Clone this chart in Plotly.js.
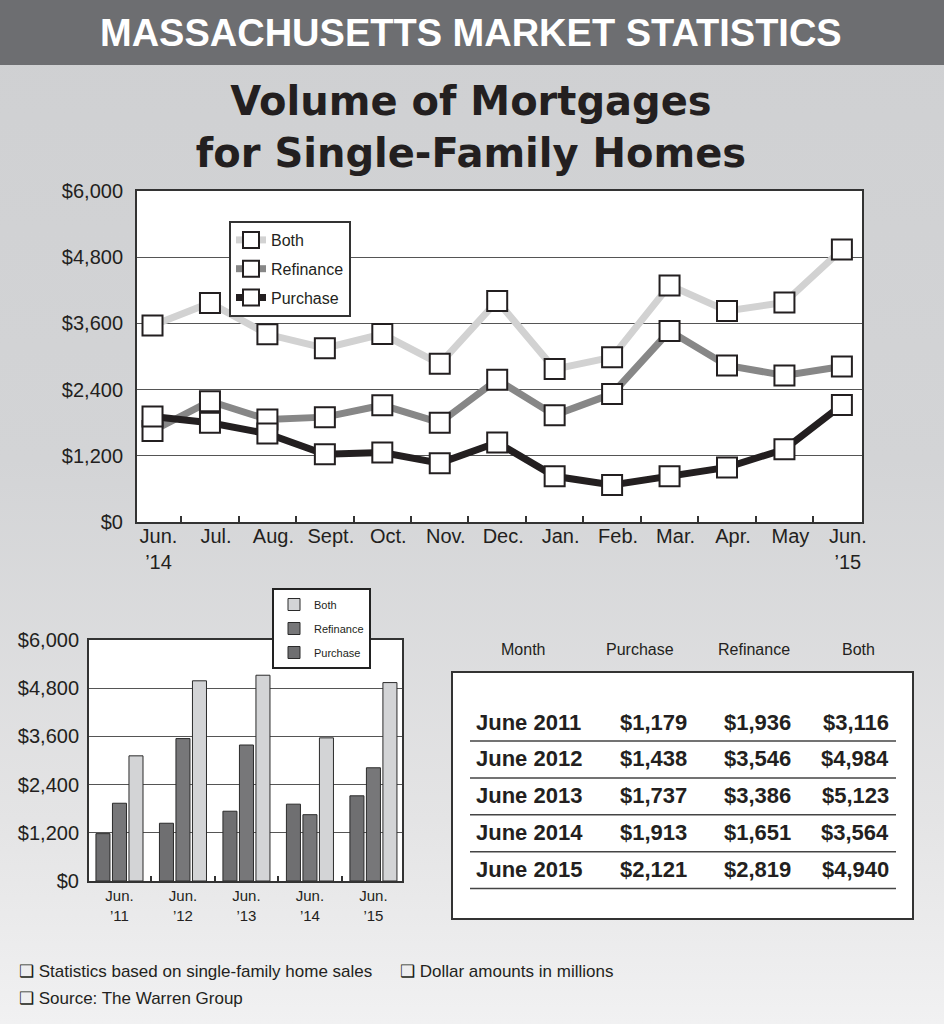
<!DOCTYPE html>
<html><head><meta charset="utf-8">
<script src="https://cdn.plot.ly/plotly-3.0.1.min.js"></script>
<style>
html,body{margin:0;padding:0;}
#chart{width:944px;height:1024px;background:linear-gradient(to bottom,#cfd0d2 0%,#d3d4d6 45%,#e4e4e5 80%,#f1f1f2 100%);}
</style></head><body><div id="chart"></div>
<script>
// ---- data ----
const months = ['Jun 2014','Jul 2014','Aug 2014','Sep 2014','Oct 2014','Nov 2014','Dec 2014','Jan 2015','Feb 2015','Mar 2015','Apr 2015','May 2015','Jun 2015'];
const monthLabels = ['Jun.<br>’14','Jul.','Aug.','Sept.','Oct.','Nov.','Dec.','Jan.','Feb.','Mar.','Apr.','May','Jun.<br>’15'];
const bothMonthly = [3564,3971,3402,3150,3407,2867,4007,2772,2988,4289,3827,3978,4940];
const refinanceMonthly = [1651,2189,1859,1901,2117,1800,2579,1937,2322,3461,2837,2657,2819];
const purchaseMonthly = [1913,1800,1602,1229,1260,1067,1440,828,671,828,990,1319,2121];

const juneYears = ['June 2011','June 2012','June 2013','June 2014','June 2015'];
const juneLabels = ['Jun.<br>’11','Jun.<br>’12','Jun.<br>’13','Jun.<br>’14','Jun.<br>’15'];
const purchaseJune = [1179,1438,1737,1913,2121];
const refinanceJune = [1936,3546,3386,1651,2819];
const bothJune = [3116,4984,5123,3564,4940];

const tableHeaders = ['Month','Purchase','Refinance','Both'];
const notes = ['❑ Statistics based on single-family home sales','❑ Dollar amounts in millions','❑ Source: The Warren Group'];
const headerText = 'MASSACHUSETTS MARKET STATISTICS';
const titleText = 'Volume of Mortgages<br>for Single-Family Homes';

// ---- helpers ----
const W = 944, H = 1024;
const px = v => v / W, py = v => 1 - v / H;
const FONT = 'Liberation Sans, Arial, sans-serif';
const INK = '#231f20';
const money = v => '$' + v.toLocaleString('en-US');

function lineTrace(name, y, color, rank) {
  return {type:'scatter', mode:'lines+markers', x:months, y:y, name:name,
    xaxis:'x', yaxis:'y', legend:'legend', legendgroup:name, legendrank:rank,
    line:{color:color, width:7},
    marker:{symbol:'square', size:20, color:'#ffffff', line:{color:INK, width:2}},
    hoverinfo:'skip'};
}
function barTrace(name, y, color, rank) {
  return {type:'bar', x:juneYears, y:y, name:name, xaxis:'x2', yaxis:'y2',
    legend:'legend2', legendgroup:'b' + name, legendrank:rank,
    marker:{color:color, line:{color:'#2b2b2b', width:1}}, hoverinfo:'skip'};
}

const data = [
  lineTrace('Both', bothMonthly, '#d2d2d2', 1),
  lineTrace('Refinance', refinanceMonthly, '#878787', 2),
  lineTrace('Purchase', purchaseMonthly, INK, 3),
  barTrace('Purchase', purchaseJune, '#6f6f71', 3),
  barTrace('Refinance', refinanceJune, '#777779', 2),
  barTrace('Both', bothJune, '#d3d4d6', 1)
];

const axisLine = {showline:true, mirror:true, linecolor:'#333333', linewidth:2, fixedrange:true};

const annotations = [];
annotations.push({text:headerText, xref:'paper', yref:'paper', x:px(471), y:py(33), xanchor:'center', yanchor:'middle', showarrow:false,
  font:{family:FONT, size:38, weight:700, color:'#ffffff'}});
const notePos = [[17, 971], [398, 971], [17, 998]];
notes.forEach((t, i) => {
  annotations.push({text:t, xref:'paper', yref:'paper', x:px(notePos[i][0]), y:py(notePos[i][1]), xanchor:'left', yanchor:'middle', showarrow:false,
    font:{family:FONT, size:17, color:INK}});
});
const headerX = [523, 640, 754, 858];
tableHeaders.forEach((t, i) => {
  annotations.push({text:t, xref:'paper', yref:'paper', x:px(headerX[i]), y:py(649), xanchor:'center', yanchor:'middle', showarrow:false,
    font:{family:FONT, size:16, color:INK}});
});
const valueRight = [689, 793, 891];
const shapes = [
  {type:'rect', xref:'paper', yref:'paper', x0:0, x1:1, y0:py(65), y1:1, fillcolor:'#6d6e71', line:{width:0}, layer:'below'},
  {type:'rect', xref:'paper', yref:'paper', x0:px(452), x1:px(913), y0:py(919), y1:py(672), fillcolor:'#ffffff', line:{color:'#333333', width:2}, layer:'below'}
];
juneYears.forEach((m, i) => {
  const yc = 722 + i * 36.9;
  annotations.push({text:m, xref:'paper', yref:'paper', x:px(474), y:py(yc), xanchor:'left', yanchor:'middle', showarrow:false,
    font:{family:FONT, size:22, weight:700, color:INK}});
  [purchaseJune[i], refinanceJune[i], bothJune[i]].forEach((v, j) => {
    annotations.push({text:money(v), xref:'paper', yref:'paper', x:px(valueRight[j]), y:py(yc), xanchor:'right', yanchor:'middle', showarrow:false,
      font:{family:FONT, size:22, weight:700, color:INK}});
  });
  shapes.push({type:'line', xref:'paper', yref:'paper', x0:px(470), x1:px(896), y0:py(yc + 19), y1:py(yc + 19), line:{color:'#444444', width:1.5}});
});

const layout = {
  width:W, height:H, autosize:false,
  margin:{l:0, r:0, t:0, b:0, pad:0},
  paper_bgcolor:'rgba(0,0,0,0)', plot_bgcolor:'#ffffff',
  font:{family:FONT, color:INK},
  title:{text:titleText, x:px(471), xanchor:'center', xref:'paper', y:py(115), yanchor:'middle', yref:'paper',
    font:{family:'DejaVu Sans, sans-serif', size:40, weight:700, color:INK}},
  showlegend:true,
  barmode:'group', bargap:0.22, bargroupgap:0.15,
  xaxis:Object.assign({domain:[px(137), px(862)], anchor:'y', type:'category', range:[-0.27, 12.35],
    tickmode:'array', tickvals:months, ticktext:monthLabels, tickson:'boundaries', tickangle:0,
    ticks:'inside', ticklen:6, tickwidth:2, tickcolor:'#333333', showgrid:false,
    tickfont:{family:FONT, size:20, color:INK}, ticklabelshift:6, ticklabelstandoff:-5}, axisLine),
  yaxis:Object.assign({domain:[py(522), py(191)], anchor:'x', range:[0, 6000], tick0:0, dtick:1200,
    tickprefix:'$', tickformat:',d', showgrid:true, gridcolor:'#555555', gridwidth:1, zeroline:false, ticks:'',
    tickfont:{family:FONT, size:20, color:INK}, ticklabelstandoff:8}, axisLine),
  xaxis2:Object.assign({domain:[px(89), px(402)], anchor:'y2', type:'category', range:[-0.48, 4.45],
    tickmode:'array', tickvals:juneYears, ticktext:juneLabels, tickson:'boundaries', tickangle:0,
    ticks:'inside', ticklen:5, tickwidth:2, tickcolor:'#333333', showgrid:false,
    tickfont:{family:FONT, size:15, color:INK}}, axisLine),
  yaxis2:Object.assign({domain:[py(881), py(640)], anchor:'x2', range:[0, 6000], tick0:0, dtick:1200,
    tickprefix:'$', tickformat:',d', showgrid:true, gridcolor:'#555555', gridwidth:1, zeroline:false, ticks:'',
    tickfont:{family:FONT, size:20, color:INK}, ticklabelstandoff:4}, axisLine),
  legend:{x:px(229), y:py(221), xanchor:'left', yanchor:'top', bgcolor:'#ffffff', bordercolor:'#333333', borderwidth:2,
    font:{family:FONT, size:16, color:INK}, tracegroupgap:5, itemsizing:'trace', traceorder:'grouped', entrywidth:130},
  legend2:{x:px(272), y:py(588), xanchor:'left', yanchor:'top', bgcolor:'#ffffff', bordercolor:'#222222', borderwidth:2,
    font:{family:FONT, size:11, color:INK}, tracegroupgap:5, traceorder:'grouped', entrywidth:60},
  annotations:annotations,
  shapes:shapes
};

Plotly.newPlot('chart', data, layout, {staticPlot:true, displayModeBar:false});
</script></body></html>
